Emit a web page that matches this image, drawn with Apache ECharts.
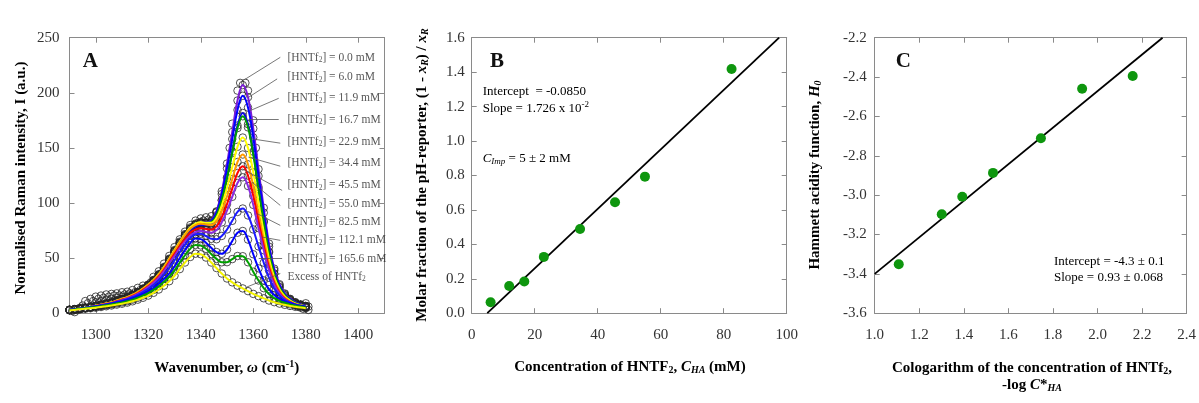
<!DOCTYPE html>
<html><head><meta charset="utf-8">
<script src="https://cdn.jsdelivr.net/npm/echarts@6/dist/echarts.min.js"></script>
<style>html,body{margin:0;padding:0;background:#fff}#c{width:1199px;height:403px}</style>
</head><body><div id="c"></div>
<script>
// ---------- Panel A data ----------
const wn = [1290,1292,1294,1296,1298,1300,1302,1304,1306,1308,1310,1312,1314,1316,1318,1320,1322,1324,1326,1328,1330,1332,1334,1336,1338,1340,1342,1344,1346,1348,1350,1352,1354,1356,1358,1360,1362,1364,1366,1368,1370,1372,1374,1376,1378,1380];
const I_00  = [3,3.5,4,4.8,5.5,6.5,7.5,8.5,9.5,11,12.5,14,16,18.5,21.5,25,29,34,40.5,48,55.6,63.1,69.9,76,80.1,82,82,83.9,92.4,110.6,135.8,164.4,193,207,196,167.6,130.7,95.6,63.2,40.4,26.3,17.9,13.1,10,7.9,6.6];
const I_06  = [3.0,3.5,4.0,4.8,5.6,6.6,7.6,8.6,9.6,11.1,12.6,14.1,16.2,18.7,21.7,25.3,29.3,34.3,40.9,48.3,56,63.6,70.5,76.4,80.4,82.2,82.2,83.7,91.3,108.1,131.4,158,184.4,197.3,186.6,159.5,124.5,91.2,60.4,38.8,25.4,17.4,12.8,9.8,7.9,6.5];
const I_119 = [3.0,3.5,4.0,4.8,5.4,6.4,7.4,8.4,9.4,10.9,12.4,13.9,15.8,18.3,21.3,24.8,28.7,33.7,40,47.2,54.8,62.2,68.8,74.7,78.5,80.1,79.9,80.9,87.6,102.3,123,146.7,170.3,181.7,171.5,146.6,114.5,83.9,55.8,36.1,23.7,16.3,12,9.2,7.5,6.3];
const I_167 = [3.1,3.6,4.1,4.9,5.6,6.6,7.7,8.7,9.7,11.2,12.8,14.3,16.3,18.9,21.9,25.5,29.6,34.7,41.2,48.6,56.4,63.9,70.7,76.7,80.5,82.1,81.8,82.6,88.8,102.7,122.6,145.3,168,178.7,168.6,144,112.6,82.5,55.1,35.7,23.6,16.3,12.1,9.3,7.5,6.3];
const I_229 = [3.1,3.6,4.2,5.0,5.7,6.8,7.8,8.8,9.9,11.4,13,14.6,16.6,19.2,22.4,26,30.2,35.4,42,49.5,57.3,64.9,71.8,77.8,81.3,82.7,82.1,82.1,86.6,97.7,113.8,132.4,151,159.4,149.9,127.9,100.2,73.6,49.5,32.5,21.8,15.2,11.5,8.9,7.3,6.2];
const I_344 = [3.1,3.6,4.1,4.9,5.7,6.7,7.7,8.8,9.8,11.3,12.9,14.4,16.5,19.1,22.1,25.8,29.9,35,41.5,48.9,56.6,64.1,70.9,76.7,80,81.2,80.5,80,83.4,92.5,105.9,121.6,137.2,144,135.1,115.2,90.4,66.6,45,29.8,20.2,14.2,10.8,8.5,7.1,5.9];
const I_455 = [2.9,3.4,3.9,4.7,5.4,6.4,7.4,8.3,9.3,10.8,12.3,13.7,15.7,18.1,21.1,24.5,28.4,33.3,39.5,46.6,53.8,61,67.4,72.9,76,77.1,76.4,75.8,78.7,86.9,99,113.1,127.2,133.3,124.9,106.5,83.6,61.7,41.7,27.8,18.8,13.4,10.2,8,6.6,5.6];
const I_550 = [2.9,3.3,3.8,4.6,5.2,6.2,7.1,8.1,9.0,10.5,11.9,13.3,15.2,17.6,20.4,23.8,27.6,32.3,38.3,45.2,52.1,59.1,65.2,70.5,73.5,74.5,73.7,73,75.4,82.4,93.1,105.6,118.1,123.3,115.4,98.3,77.2,57.1,38.8,26,17.7,12.6,9.7,7.6,6.3,5.4];
const I_825 = [3.0,3.6,4.1,4.8,5.5,6.3,7.1,8.0,9.0,10.2,11.4,12.8,14.5,16.6,19.2,22.1,25.6,29.9,35.2,41.2,48,55.3,62.2,68.1,71.7,72.1,70,67.5,67.1,70.1,76,83.8,91.9,95,88.7,76,60.6,45.8,32.1,22.5,16.2,12.2,9.7,7.9,6.7,5.8];
const I_1121= [3.1,3.7,4.3,5.0,5.6,6.2,6.9,7.8,8.7,9.7,10.7,11.9,13.4,15.3,17.4,19.8,22.9,26.7,31,36,42.4,49.9,57.4,63.7,67.7,67.2,64,59.3,55.5,53.9,57.8,65.5,73,74.6,66.8,53.5,40.7,29.8,21.8,16.6,13.1,10.8,9.1,7.8,6.7,5.8];
const I_1656= [2.9,3.4,4.0,4.6,5.1,5.7,6.4,7.2,8.0,8.9,9.8,10.9,12.3,14,16,18.2,21.1,24.5,28.5,33.1,38.9,45.8,52.6,58.4,62,61.5,58.4,53.7,49.3,46.2,46.3,49.1,51.9,51.7,46.2,37.7,29.7,22.7,17.3,13.7,11.2,9.5,8,6.9,6,5.2];
const I_exc = [2.5,3,3.5,4,4.5,5,5.6,6.3,7,7.8,8.6,9.6,10.8,12.3,14,16,18.5,21.5,25,29,34,40,46,51,54,53.5,50.5,46,41,36,31.5,28,25,22.5,20,17.5,15.5,13.5,11.5,10,8.7,7.6,6.6,5.8,5.1,4.5];
const spectra = [I_00,I_06,I_119,I_167,I_229,I_344,I_455,I_550,I_825,I_1121,I_1656,I_exc];
const rawExtra = [[1291,2],[1292,1],[1293,3],[1294,5],[1295,7],[1296,11],[1298,13],[1300,15],[1302,16],[1304,17],[1306,17.5],[1308,18],[1310,19],[1312,19.5],[1314,21],[1316,23],[1318,25],
  [1297,9],[1299,11],[1301,13],[1303,14],[1305,15],[1307,16],[1309,16],[1311,17],[1313,18],[1315,19],[1317,21],[1319,23],
  [1300,10],[1302,11],[1304,12],[1306,13],[1308,14],[1310,15],[1312,16],[1314,17],[1316,19],[1318,20],
  [1321,28],[1322,33],[1323,30],[1324,38],[1325,36],[1326,45],[1327,43],[1328,52],[1329,50],[1330,60],[1331,58],[1332,67],[1333,65],[1334,74],[1335,72],[1336,80],[1337,78],[1338,84],[1339,82],[1340,86],[1341,84],[1342,87],[1343,85],[1344,88],[1346,92],
  [1355,209],[1357,209],[1354,202],[1358,202],[1352,172],[1360,175],[1351,150],[1361,150],
  [1375,9],[1377,6],[1379,4],[1381,6],[1381,3],[1380,9]];
const concLabels = ['0.0','6.0','11.9','16.7','22.9','34.4','45.5','55.0','82.5','112.1','165.6'];
const tickA_x = [1300,1320,1340,1360,1380,1400];
// ---------- Panel B data ----------
const concB = [6.0,11.9,16.7,22.9,34.4,45.5,55.0,82.5];
const ratioB = [0.064,0.158,0.184,0.327,0.489,0.644,0.793,1.418];
const fitB = [[4.95,0],[97.6,1.6]];
// ---------- Panel C data ----------
const logC = [1.108,1.301,1.393,1.531,1.746,1.931,2.158];
const H0 = [-3.351,-3.097,-3.008,-2.887,-2.711,-2.459,-2.395];
const fitC = [[1.0,-3.40],[2.292,-2.2]];

// ---------- layout / style ----------
const colors = ['#7a1cd6','#0000ff','#0a0ae0','#009a00','#ffff00','#ff9a00','#ff0000','#8a2be2','#1a1aff','#0000ff','#00a000','#f2f200'];
const labelAnchorX = 1373;
const labelAnchorY = [231.6,214,195,175.7,155.8,136.1,115.9,99.4,82.7,66.1,48.9,32.9];
const leaders = [
 [[1370.3,232.2],[1356.7,212]],[[1369.1,212.6],[1358.2,195.9]],[[1369.7,195],[1358.9,183.9]],
 [[1369.7,176.4],[1358.2,176.4]],[[1370.3,154.3],[1359.5,158.2]],[[1370.3,133.4],[1358.2,141.6]],
 [[1371,111.4],[1355.7,131.1]],[[1370.3,97.8],[1359.5,118.9]],[[1370.3,79.7],[1361.5,90.3]],
 [[1370.3,66.1],[1363.4,69.1]],[[1371,49.5],[1362.1,49.5]],[[1370.3,36],[1357.6,23.8]]];

const SERIF = '"Liberation Serif","Times New Roman",serif';
const axisLineStyle = {color:'#8a8a8a', width:1};
const tickStyle = {show:true, inside:true, length:5, lineStyle:axisLineStyle};
const labStyle = {show:true, color:'#333', fontFamily:SERIF, fontSize:15};
function xAx(grid, pos, min, max, extra){
  const top = pos === 'top';
  return Object.assign({
    type:'value', gridIndex:grid, position:pos, min, max,
    axisLine:{show:true, onZero:false, lineStyle:axisLineStyle},
    axisTick:tickStyle,
    axisLabel:Object.assign({}, labStyle, {show:!top, margin:14}),
    splitLine:{show:false}
  }, extra||{});
}
function yAx(grid, pos, min, max, extra){
  const right = pos === 'right';
  return Object.assign({
    type:'value', gridIndex:grid, position:pos, min, max,
    axisLine:{show:true, onZero:false, lineStyle:axisLineStyle},
    axisTick:tickStyle,
    axisLabel:Object.assign({}, labStyle, {show:!right, margin:8}),
    splitLine:{show:false}
  }, extra||{});
}
const fmt1 = v => v.toFixed(1);
const fmt0 = v => String(v);

const series = [];
const circleStyle = {color:'rgba(0,0,0,0)', borderColor:'#262626', borderWidth:0.8, opacity:1};
spectra.forEach((arr,i)=>{
  series.push({type:'scatter', xAxisIndex:0, yAxisIndex:0, symbol:'circle', symbolSize:7.5, z:2, silent:true,
    itemStyle:circleStyle, data: wn.map((w,k)=>[w, arr[k]])});
});
series.push({type:'scatter', xAxisIndex:0, yAxisIndex:0, symbol:'circle', symbolSize:7.5, z:2, silent:true,
  itemStyle:circleStyle, data: rawExtra});
spectra.forEach((arr,i)=>{
  series.push({type:'line', xAxisIndex:0, yAxisIndex:0, smooth:0.4, showSymbol:false, z:3, silent:true,
    lineStyle:{color:colors[i], width:2}, data: wn.map((w,k)=>[w, arr[k]])});
});
series.push({type:'lines', coordinateSystem:'cartesian2d', xAxisIndex:0, yAxisIndex:0, z:4, silent:true,
  lineStyle:{color:'#555', width:0.8, opacity:1}, data: leaders.map(l=>({coords:l}))});
const labelTexts = concLabels.map(c=>'{t|[HNTf}{s|2}{t|] = '+c+' mM}').concat(['{t|Excess of HNTf}{s|2}']);
series.push({type:'scatter', xAxisIndex:0, yAxisIndex:0, symbolSize:0, z:5, silent:true,
  data: labelAnchorY.map(y=>[labelAnchorX,y]),
  label:{show:true, position:'right', distance:0, formatter:p=>labelTexts[p.dataIndex],
    rich:{t:{fontFamily:SERIF, fontSize:11.5, color:'#2a2a2a'}, s:{fontFamily:SERIF, fontSize:7.5, color:'#2a2a2a', padding:[5,0,0,0]}}}});
// Panel B
series.push({type:'line', xAxisIndex:2, yAxisIndex:2, showSymbol:false, z:3, silent:true,
  lineStyle:{color:'#000', width:1.8}, data: fitB});
series.push({type:'scatter', xAxisIndex:2, yAxisIndex:2, symbolSize:10, z:4, silent:true,
  itemStyle:{color:'#0e960e', opacity:1}, data: concB.map((c,k)=>[c, ratioB[k]])});
// Panel C
series.push({type:'line', xAxisIndex:4, yAxisIndex:4, showSymbol:false, z:3, silent:true,
  lineStyle:{color:'#000', width:1.8}, data: fitC});
series.push({type:'scatter', xAxisIndex:4, yAxisIndex:4, symbolSize:10, z:4, silent:true,
  itemStyle:{color:'#0e960e', opacity:1}, data: logC.map((c,k)=>[c, H0[k]])});

const rb = {
  b:{fontFamily:SERIF, fontWeight:'bold', fontSize:15, color:'#111'},
  bi:{fontFamily:SERIF, fontWeight:'bold', fontStyle:'italic', fontSize:15, color:'#111'},
  bsub:{fontFamily:SERIF, fontWeight:'bold', fontSize:10, color:'#111', padding:[7,0,0,0]},
  bisub:{fontFamily:SERIF, fontWeight:'bold', fontStyle:'italic', fontSize:10, color:'#111', padding:[7,0,0,0]},
  sup:{fontFamily:SERIF, fontWeight:'bold', fontSize:10, color:'#111', padding:[0,0,8,0]},
  t:{fontFamily:SERIF, fontSize:13, color:'#333'},
  i:{fontFamily:SERIF, fontStyle:'italic', fontSize:13, color:'#333'},
  isub:{fontFamily:SERIF, fontStyle:'italic', fontSize:9, color:'#333', padding:[6,0,0,0]},
  tsup:{fontFamily:SERIF, fontSize:9, color:'#333', padding:[0,0,7,0]}
};
function txt(x,y,text,opts){
  return Object.assign({type:'text', x, y, silent:true, z:10,
    style:Object.assign({text, align:'left', verticalAlign:'middle', rich:rb}, (opts&&opts.style)||{})},
    opts&&opts.rotation!==undefined?{rotation:opts.rotation}:{});
}
const graphic = [
  txt(82.7,61.7,'A',{style:{font:'bold 21px '+SERIF, fill:'#111'}}),
  txt(490,61.7,'B',{style:{font:'bold 21px '+SERIF, fill:'#111'}}),
  txt(895.7,61.7,'C',{style:{font:'bold 21px '+SERIF, fill:'#111'}}),
  txt(482.7,91.7,'{t|Intercept  = -0.0850}'),
  txt(482.7,108.3,'{t|Slope = 1.726 x 10}{tsup|-2}'),
  txt(482.7,158.3,'{i|C}{isub|Imp}{t| = 5 ± 2 mM}'),
  txt(1054,261.7,'{t|Intercept = -4.3 ± 0.1}'),
  txt(1054,277.3,'{t|Slope = 0.93 ± 0.068}'),
  txt(20.7,178,'{b|Normalised Raman intensity, I (a.u.)}',{rotation:Math.PI/2, style:{align:'center'}}),
  txt(226.7,368.3,'{b|Wavenumber, }{bi|ω}{b| (cm}{sup|-1}{b|)}',{style:{align:'center'}}),
  txt(630,366.7,'{b|Concentration of HNTF}{bsub|2}{b|, }{bi|C}{bisub|HA}{b| (mM)}',{style:{align:'center'}}),
  txt(421.7,175,'{b|Molar fraction of the pH-reporter, (1 - }{bi|x}{bisub|R}{b|) / }{bi|x}{bisub|R}',{rotation:Math.PI/2, style:{align:'center'}}),
  txt(815,175,'{b|Hammett acidity function, }{bi|H}{bisub|0}',{rotation:Math.PI/2, style:{align:'center'}}),
  txt(1032,368.3,'{b|Cologarithm of the concentration of HNTf}{bsub|2}{b|,}',{style:{align:'center'}}),
  txt(1032,385,'{b|-log }{bi|C}{b|*}{bisub|HA}',{style:{align:'center'}})
];

const option = {
  animation:false,
  backgroundColor:'#fff',
  grid:[
    {left:69.5, top:37.7, width:315, height:275.5},
    {left:471.7, top:37.7, width:315, height:275.5},
    {left:874.7, top:37.7, width:314.6, height:275.5}
  ],
  xAxis:[
    xAx(0,'bottom',1290,1410,{axisTick:Object.assign({}, tickStyle, {customValues:tickA_x}),
       axisLabel:Object.assign({}, labStyle, {margin:14, customValues:tickA_x, formatter:fmt0})}),
    xAx(0,'top',1290,1410,{axisTick:Object.assign({}, tickStyle, {customValues:tickA_x})}),
    xAx(1,'bottom',0,100,{interval:20}),
    xAx(1,'top',0,100,{interval:20}),
    xAx(2,'bottom',1.0,2.4,{interval:0.2, axisLabel:Object.assign({}, labStyle, {margin:14, formatter:fmt1})}),
    xAx(2,'top',1.0,2.4,{interval:0.2})
  ],
  yAxis:[
    yAx(0,'left',0,250,{interval:50, axisLabel:Object.assign({}, labStyle, {margin:10})}),
    yAx(0,'right',0,250,{interval:50}),
    yAx(1,'left',0,1.6,{interval:0.2, axisLabel:Object.assign({}, labStyle, {margin:7, formatter:fmt1})}),
    yAx(1,'right',0,1.6,{interval:0.2}),
    yAx(2,'left',-3.6,-2.2,{interval:0.2, axisLabel:Object.assign({}, labStyle, {margin:8, formatter:fmt1})}),
    yAx(2,'right',-3.6,-2.2,{interval:0.2})
  ],
  series,
  graphic
};
const chart = echarts.init(document.getElementById('c'));
chart.setOption(option);
</script>
</body></html>
